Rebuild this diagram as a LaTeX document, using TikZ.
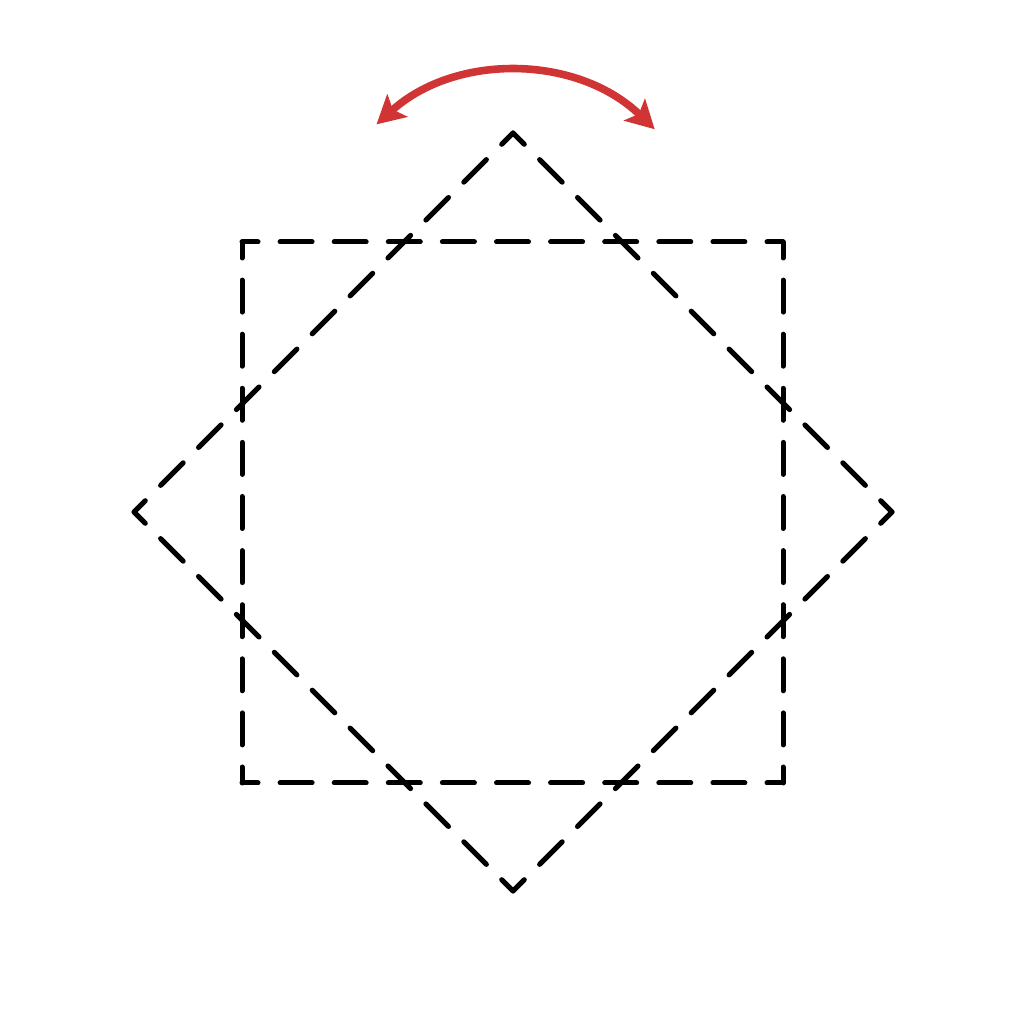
\documentclass[tikz,border=0pt]{standalone}
\usetikzlibrary{arrows.meta}
\definecolor{arcred}{RGB}{209,52,52}
\begin{document}
\begin{tikzpicture}[x=0.5pt,y=0.5pt,
  sqside/.style={line width=2.5pt,line cap=round,dash pattern=on 16pt off 11.05pt,dash phase=8pt},
  dmside/.style={line width=2.5pt,line cap=round,dash pattern=on 16pt off 10.8pt,dash phase=8pt},
  swing/.style={arcred,line width=3.8pt,{Stealth[length=14pt,width=15pt,inset=3pt]}-{Stealth[length=14pt,width=15pt,inset=3pt]}}]
\useasboundingbox (0,0) rectangle (1024,1024);
% square corners
\coordinate (s1) at (242,782);
\coordinate (s2) at (783,782);
\coordinate (s3) at (783,241);
\coordinate (s4) at (242,241);
% diamond corners
\coordinate (d1) at (513,891);
\coordinate (d2) at (892,512);
\coordinate (d3) at (513,133);
\coordinate (d4) at (134,512);
\draw[sqside] (s1) -- (s2);
\draw[sqside] (s2) -- (s3);
\draw[sqside] (s3) -- (s4);
\draw[sqside] (s4) -- (s1);
\draw[dmside] (d1) -- (d2);
\draw[dmside] (d2) -- (d3);
\draw[dmside] (d3) -- (d4);
\draw[dmside] (d4) -- (d1);
% rotation arc
\coordinate (ac) at (513,748);
\draw[swing] ([shift={(132:204)}]ac) arc[start angle=132,end angle=46,radius=204];
\end{tikzpicture}
\end{document}
